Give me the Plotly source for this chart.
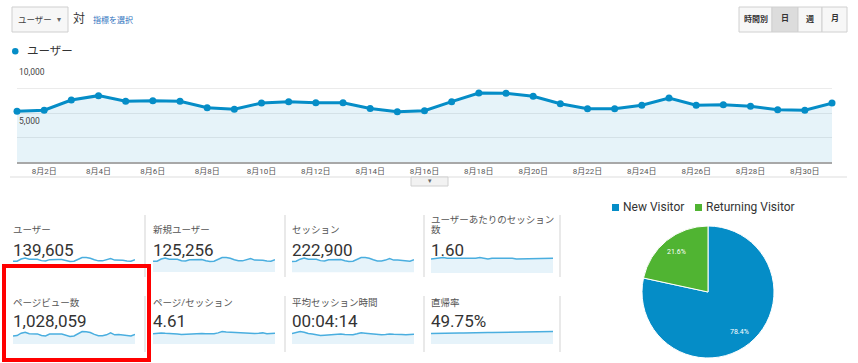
import math
import plotly.graph_objects as go

W, H = 858, 363
def X(px): return px / W
def Y(py): return 1 - py / H

FONT = "Roboto, 'Noto Sans CJK JP', sans-serif"

# ---------------- data ----------------
days = list(range(1, 32))
tick_days = list(range(2, 31, 2))
tick_labels = [f"8月{d}日" for d in tick_days]
users = [5190, 5290, 6320, 6770, 6190, 6260, 6190, 5540, 5390, 6010, 6160, 6050, 6050, 5460, 5120, 5230,
         6160, 7040, 7010, 6700, 5950, 5430, 5430, 5800, 6530, 5800, 5850, 5700, 5330, 5290, 6010]
y_label_vals = [5000, 10000]
y_grid_vals = [2500, 5000, 7500, 10000]

new_users = [4620, 4710, 5600, 6010, 5500, 5560, 5490, 4930, 4800, 5350, 5470, 5380, 5390, 4860, 4560, 4660,
             5500, 6280, 6250, 5970, 5300, 4840, 4830, 5170, 5810, 5160, 5200, 5080, 4740, 4710, 5360]
sessions = [6300, 6450, 7600, 8200, 7500, 7600, 7500, 6750, 6550, 7300, 7450, 7350, 7350, 6650, 6250, 6400,
            7500, 8550, 8500, 8150, 7250, 6600, 6600, 7050, 7950, 7050, 7100, 6950, 6500, 6450, 7300]
sessions_per_user = [1.59, 1.60, 1.60, 1.61, 1.60, 1.60, 1.60, 1.59, 1.60, 1.60, 1.60, 1.60, 1.61, 1.60, 1.59, 1.60,
                     1.60, 1.61, 1.61, 1.60, 1.60, 1.59, 1.59, 1.60, 1.60, 1.60, 1.60, 1.60, 1.59, 1.60, 1.60]
pageviews = [29500, 30500, 35500, 37500, 34500, 35000, 34000, 30500, 29800, 33500, 34500, 34000, 33800, 30500, 28500, 29500,
             34500, 39000, 38500, 37000, 33000, 30000, 30000, 32000, 36000, 32000, 32500, 31500, 29500, 29500, 33000]
pages_per_session = [4.58, 4.60, 4.62, 4.60, 4.59, 4.61, 4.57, 4.55, 4.56, 4.58, 4.60, 4.60, 4.59, 4.58, 4.57, 4.58,
                     4.62, 4.68, 4.66, 4.65, 4.62, 4.60, 4.60, 4.58, 4.60, 4.59, 4.60, 4.62, 4.58, 4.59, 4.60]
avg_duration = [258, 262, 270, 266, 258, 255, 252, 246, 248, 250, 254, 256, 255, 252, 250, 251,
                256, 262, 260, 258, 252, 250, 250, 252, 255, 253, 254, 252, 250, 251, 254]
bounce_rate = [49.60, 49.62, 49.61, 49.63, 49.64, 49.63, 49.65, 49.66, 49.65, 49.67, 49.68, 49.67, 49.69, 49.70, 49.70, 49.71,
               49.72, 49.72, 49.73, 49.74, 49.75, 49.75, 49.76, 49.77, 49.78, 49.78, 49.79, 49.80, 49.80, 49.81, 49.82]

metric_labels = ["ユーザー", "新規ユーザー", "セッション", "ユーザーあたりのセッション\n数",
                 "ページビュー数", "ページ/セッション", "平均セッション時間", "直帰率"]
metric_values = ["139,605", "125,256", "222,900", "1.60", "1,028,059", "4.61", "00:04:14", "49.75%"]
metric_series = [users, new_users, sessions, sessions_per_user, pageviews, pages_per_session, avg_duration, bounce_rate]

pie_labels = ["New Visitor", "Returning Visitor"]
pie_values = [78.4, 21.6]
pie_colors = ["#058DC7", "#50B432"]

period_buttons = ["時間別", "日", "週", "月"]

# ---------------- figure ----------------
fig = go.Figure()
shapes, annotations = [], []

# main chart
fig.add_trace(go.Scatter(
    x=days, y=users, mode="lines+markers",
    line=dict(color="#058DC7", width=3),
    marker=dict(color="#058DC7", size=7),
    fill="tozeroy", fillcolor="rgba(5,141,199,0.10)",
    cliponaxis=False, xaxis="x", yaxis="y", hoverinfo="skip", showlegend=False))

layout_axes = dict(
    xaxis=dict(domain=[X(17), X(832)], range=[1, 31], tickvals=tick_days, ticktext=tick_labels,
               tickfont=dict(size=8, color="#555", family=FONT), showgrid=False, zeroline=False,
               showline=True, linecolor="#a8a8a8", linewidth=2, ticks="", anchor="y", fixedrange=True),
    yaxis=dict(domain=[Y(162), Y(64)], range=[0, 10000], tickvals=y_grid_vals, showticklabels=False,
               gridcolor="#ebebeb", gridwidth=1, zeroline=False, anchor="x", fixedrange=True),
)
for v in y_label_vals:
    annotations.append(dict(xref="paper", yref="y", x=X(17), y=v, text=f"{v:,}", showarrow=False,
                            xanchor="left", yanchor="top", yshift=-1,
                            font=dict(size=8.5, color="#444", family=FONT)))

# sparklines
col_x0 = [13, 153, 292, 431]
col_w = 122
rows = [dict(top=256, bottom=273, label=229, value=250, sep=(215, 277)),
        dict(top=330, bottom=344, label=302, value=321, sep=(296, 352))]
amp_px = [4, 4, 4, 1.5, 5, 3, 4, 2]
for i, series in enumerate(metric_series):
    r, c = divmod(i, 4)
    row = rows[r]
    n = i + 2
    xa, ya = f"xaxis{n}", f"yaxis{n}"
    hpx = row["bottom"] - row["top"]
    mx, mn = max(series), min(series)
    span = (mx - mn) or 1
    pp = span / amp_px[i]
    hi = mx + 1.5 * pp
    lo = hi - hpx * pp
    fill = "none" if i == 0 else "tozeroy"
    fig.add_trace(go.Scatter(x=days, y=series, mode="lines", line=dict(color="#4aaedf", width=1.5),
                             fill=fill, fillcolor="#e6f3fa", xaxis=f"x{n}", yaxis=f"y{n}",
                             hoverinfo="skip", showlegend=False))
    layout_axes[xa] = dict(domain=[X(col_x0[c]), X(col_x0[c] + col_w)], range=[1, 31], visible=False,
                           anchor=f"y{n}", fixedrange=True)
    layout_axes[ya] = dict(domain=[Y(row["bottom"]), Y(row["top"])], range=[lo, hi], visible=False,
                           anchor=f"x{n}", fixedrange=True)
    parts = metric_labels[i].split("\n")
    for k, part in enumerate(reversed(parts)):
        annotations.append(dict(xref="paper", yref="paper", x=X(col_x0[c] - 2), y=Y(row["label"] - 10 * k),
                                text=part, showarrow=False, xanchor="left", yanchor="middle",
                                font=dict(size=9.5, color="#555", family=FONT)))
    annotations.append(dict(xref="paper", yref="paper", x=X(col_x0[c] - 2), y=Y(row["value"]),
                            text=metric_values[i], showarrow=False, xanchor="left", yanchor="middle",
                            font=dict(size=17, color="#333", family=FONT)))
    sx = col_x0[c] + 132 if c < 3 else 560
    shapes.append(dict(type="line", xref="paper", yref="paper", x0=X(sx), x1=X(sx),
                       y0=Y(row["sep"][0]), y1=Y(row["sep"][1]), line=dict(color="#e2e2e2", width=1.5)))

# pie
pie_cx, pie_cy, pie_r = 708, 292, 66
fig.add_trace(go.Pie(labels=pie_labels, values=pie_values, sort=False, direction="clockwise", rotation=0,
                     marker=dict(colors=pie_colors, line=dict(color="white", width=1)),
                     textinfo="none",
                     domain=dict(x=[X(pie_cx - pie_r), X(pie_cx + pie_r)], y=[Y(pie_cy + pie_r), Y(pie_cy - pie_r)]),
                     showlegend=False, hoverinfo="skip"))
# percent labels placed at slice mid-angles (derived from values)
total = sum(pie_values)
cum = 0
for v in pie_values:
    mid = 2 * math.pi * (cum + v / 2) / total
    cum += v
    lx = pie_cx + 0.77 * pie_r * math.sin(mid)
    ly = pie_cy - 0.77 * pie_r * math.cos(mid)
    annotations.append(dict(xref="paper", yref="paper", x=X(lx), y=Y(ly), text=f"{v / total * 100:.1f}%",
                            showarrow=False, xanchor="center", yanchor="middle",
                            font=dict(size=7, color="white", family=FONT)))
# pie legend
leg_x = [612, 695]
for lx, lab, col in zip(leg_x, pie_labels, pie_colors):
    shapes.append(dict(type="rect", xref="paper", yref="paper", x0=X(lx), x1=X(lx + 7), y0=Y(211), y1=Y(204),
                       fillcolor=col, line=dict(width=0)))
    annotations.append(dict(xref="paper", yref="paper", x=X(lx + 9), y=Y(207.5), text=lab, showarrow=False,
                            xanchor="left", yanchor="middle", font=dict(size=12, color="#333", family=FONT)))

# top-left controls
shapes.append(dict(type="rect", xref="paper", yref="paper", x0=X(12), x1=X(68), y0=Y(32), y1=Y(7),
                   fillcolor="#f7f7f7", line=dict(color="#cfcfcf", width=1)))
annotations += [
    dict(xref="paper", yref="paper", x=X(16), y=Y(19.5), text="ユーザー", showarrow=False, xanchor="left",
         yanchor="middle", font=dict(size=8.5, color="#444", family=FONT)),
    dict(xref="paper", yref="paper", x=X(59), y=Y(19.5), text="▾", showarrow=False, xanchor="center",
         yanchor="middle", font=dict(size=8, color="#666", family=FONT)),
    dict(xref="paper", yref="paper", x=X(71), y=Y(18.5), text="対", showarrow=False, xanchor="left",
         yanchor="middle", font=dict(size=12, color="#333", family=FONT)),
    dict(xref="paper", yref="paper", x=X(91), y=Y(19.5), text="指標を選択", showarrow=False, xanchor="left",
         yanchor="middle", font=dict(size=8, color="#2f74c0", family=FONT)),
    dict(xref="paper", yref="paper", x=X(25), y=Y(51), text="ユーザー", showarrow=False, xanchor="left",
         yanchor="middle", font=dict(size=11.5, color="#333", family=FONT)),
]
shapes.append(dict(type="circle", xref="paper", yref="paper", x0=X(12), x1=X(18.5), y0=Y(54.5), y1=Y(48),
                   fillcolor="#058DC7", line=dict(width=0)))

# period buttons
btn_edges = [739, 772, 798, 822, 847]
for k, lab in enumerate(period_buttons):
    x0, x1 = btn_edges[k], btn_edges[k + 1]
    shapes.append(dict(type="rect", xref="paper", yref="paper", x0=X(x0), x1=X(x1), y0=Y(32), y1=Y(7),
                       fillcolor="#dcdcdc" if k == 1 else "#f7f7f7", line=dict(color="#d0d0d0", width=1)))
    annotations.append(dict(xref="paper", yref="paper", x=X((x0 + x1) / 2), y=Y(19), text=f"<b>{lab}</b>",
                            showarrow=False, xanchor="center", yanchor="middle",
                            font=dict(size=8, color="#333", family=FONT)))

# divider under chart and collapse tab
shapes.append(dict(type="line", xref="paper", yref="paper", x0=X(10), x1=X(847), y0=Y(177), y1=Y(177),
                   line=dict(color="#dddddd", width=1)))
shapes.append(dict(type="rect", xref="paper", yref="paper", x0=X(411), x1=X(448), y0=Y(186), y1=Y(177),
                   fillcolor="#f2f2f2", line=dict(color="#d0d0d0", width=1)))
annotations.append(dict(xref="paper", yref="paper", x=X(430), y=Y(181), text="▾", showarrow=False,
                        xanchor="center", yanchor="middle", font=dict(size=7, color="#666", family=FONT)))

# red highlight box
shapes.append(dict(type="rect", xref="paper", yref="paper", x0=X(4), x1=X(149), y0=Y(360), y1=Y(266),
                   line=dict(color="#ff0000", width=4), fillcolor="rgba(0,0,0,0)", layer="above"))

fig.update_layout(width=W, height=H, margin=dict(l=0, r=0, t=0, b=0),
                  paper_bgcolor="white", plot_bgcolor="rgba(0,0,0,0)",
                  font=dict(family=FONT), shapes=shapes, annotations=annotations, showlegend=False,
                  **layout_axes)
fig.write_html("out.html", config={"displayModeBar": False},
               post_script="document.body.style.margin='0';document.body.style.overflow='hidden';")
